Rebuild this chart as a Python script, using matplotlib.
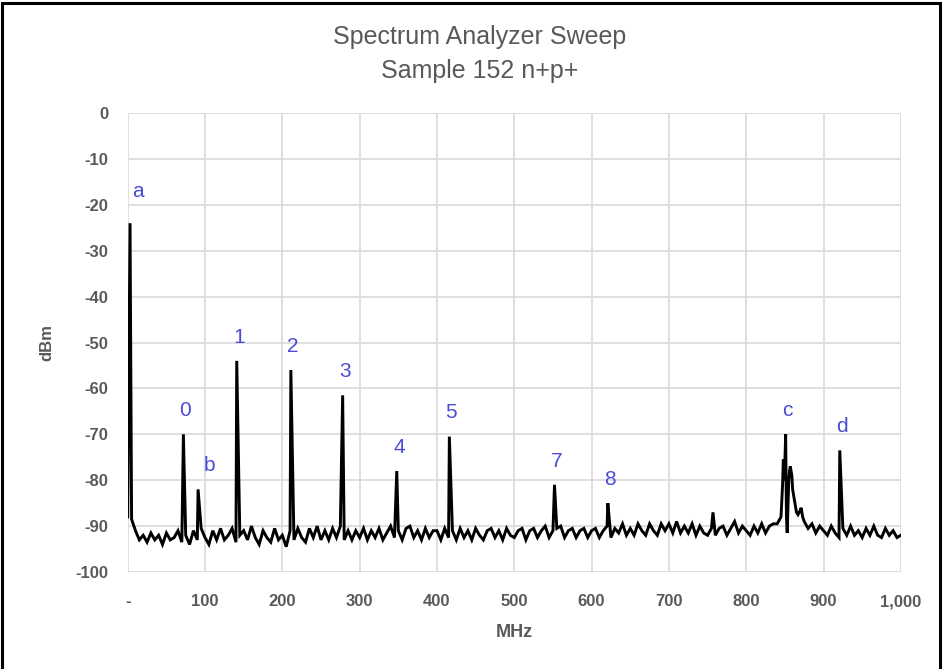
import matplotlib.pyplot as plt
import numpy as np

# sweep grid (every 5 MHz) and noise floor
sweep_mhz = np.arange(0, 1001, 5)
noise_dbm = [
    -88, -88.5, -91, -93, -92, -93.5, -91.5, -93, -92, -94,
    -91.5, -93, -92.5, -91, -93.5, -92, -94, -91, -93, -90.5,
    -92.5, -94, -91, -93, -90.5, -93, -92, -90.5, -93.5, -92,
    -91, -93, -90, -92.5, -94, -91, -92.5, -93.5, -90.5, -93,
    -92, -94.5, -91, -93, -90.5, -92.5, -93.5, -90.5, -92.5, -90,
    -93, -91, -93, -90.5, -92.5, -90, -93, -91, -93, -91,
    -92.5, -90.5, -93, -91, -92.5, -90.5, -93, -91.5, -90, -92.5,
    -91, -93, -90.5, -90, -92.5, -91, -93, -90.5, -92.5, -91,
    -91, -93, -90.5, -92.5, -91, -93, -90.5, -92.5, -91, -93,
    -90.5, -92, -93, -91, -90.5, -92.5, -91, -93, -90.5, -92,
    -92.5, -91, -90.5, -93, -91, -90.5, -92.5, -91, -90, -92.5,
    -91, -90.5, -90, -92.5, -91, -90.5, -92.5, -91, -90.5, -92.5,
    -91, -90.5, -92.5, -91, -90, -92.5, -90.5, -91.5, -89.5, -92,
    -90.5, -92, -89.5, -91, -92, -89.5, -91, -92, -89.5, -91,
    -89.5, -91.5, -89, -91.5, -90, -91.5, -89.5, -92, -90, -91.5,
    -92, -90.5, -92, -90.5, -90, -92, -90.5, -89, -91.5, -90,
    -91, -92, -90, -91.5, -89.5, -91.5, -90, -89.5, -89.5, -88,
    -76, -80, -82, -87, -86.5, -89, -90.5, -89.5, -91.5, -90,
    -91, -92, -90, -91.5, -92.5, -90.5, -92, -90, -92, -91,
    -92.5, -90.5, -92, -90, -92, -92.5, -90.5, -92, -91, -92.5,
    -92,
]

# spikes between grid points
spike_mhz = [3, 72, 91, 141, 211, 278, 348, 416, 552, 621, 757,
             847, 848, 849, 851, 852, 853, 856, 857, 859, 862, 867, 871, 873, 921]
spike_dbm = [-24, -70, -82, -54, -56, -61.5, -78, -70.5, -81, -85, -87,
             -81, -75.5, -80, -70, -88, -91.5, -78, -77, -79, -84, -87.5, -86, -88, -73.5]

# peak labels: text, frequency, level
label_text = ["a", "0", "b", "1", "2", "3", "4", "5", "7", "8", "c", "d"]
label_mhz = [3, 72, 91, 141, 211, 278, 348, 416, 552, 621, 851, 921]
label_dbm = [-24, -70, -82, -54, -56, -61.5, -78, -70.5, -81, -85, -70, -73.5]

x_ticks = [0, 100, 200, 300, 400, 500, 600, 700, 800, 900, 1000]
x_ticklabels = ["-", "100", "200", "300", "400", "500", "600", "700", "800", "900", "1,000"]
y_ticks = [0, -10, -20, -30, -40, -50, -60, -70, -80, -90, -100]

freq = np.concatenate([sweep_mhz, spike_mhz])
level = np.concatenate([noise_dbm, spike_dbm])
order = np.argsort(freq, kind="stable")
freq = freq[order]
level = level[order]

txt = "#595959"
plt.rcParams["font.family"] = ["Liberation Sans", "DejaVu Sans"]
plt.rcParams["axes.unicode_minus"] = False

fig = plt.figure(figsize=(9.44, 6.69), dpi=100)
ax = fig.add_axes([0.1353, 0.145, 0.819, 0.686])

ax.plot(freq, level, color="black", lw=2.1, solid_joinstyle="miter")

for t, f, d in zip(label_text, label_mhz, label_dbm):
    dx, dy = 1.5, 17
    if t == "a":
        dx, dy = 6, 23
    elif t == "b":
        dx = 8
    ax.annotate(t, (f, d), xytext=(dx, dy), textcoords="offset points",
                ha="center", va="center", fontsize=15, color="#4B4BD6")

ax.set_xlim(0, 1000)
ax.set_ylim(-100, 0)
ax.set_xticks(x_ticks)
ax.set_xticklabels(x_ticklabels)
ax.set_yticks(y_ticks)
ax.grid(True, color="#D9D9D9", lw=1.2)
ax.set_axisbelow(True)
for s in ax.spines.values():
    s.set_visible(False)
ax.tick_params(length=0, labelsize=12, labelcolor=txt)
ax.tick_params(axis="y", pad=14)
ax.tick_params(axis="x", pad=16)
for lab in ax.get_xticklabels() + ax.get_yticklabels():
    lab.set_fontweight("bold")

fig.text(0.508, 0.944, "Spectrum Analyzer Sweep", ha="center", va="center",
         fontsize=18, color=txt)
fig.text(0.508, 0.894, "Sample 152 n+p+", ha="center", va="center",
         fontsize=18, color=txt)
fig.text(0.05, 0.488, "dBm", ha="center", va="center", rotation=90,
         fontsize=12, fontweight="bold", color=txt)
fig.text(0.545, 0.054, "MHz", ha="center", va="center",
         fontsize=13, fontweight="bold", color=txt)

# chart border
border = plt.Rectangle((0.002, -0.05), 0.994, 1.046, transform=fig.transFigure,
                       fill=False, edgecolor="black", lw=2.2, clip_on=False)
fig.patches.append(border)

fig.savefig("out.png", dpi=100, facecolor="white")
